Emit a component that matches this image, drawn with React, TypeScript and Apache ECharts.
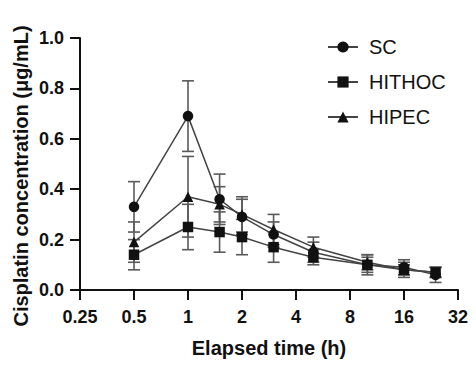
import React, { useEffect, useRef } from 'react';
import * as echarts from 'echarts';

const times = [0.5, 1, 1.5, 2, 3, 5, 10, 16, 24];
const scMean = [0.33, 0.69, 0.36, 0.29, 0.22, 0.15, 0.1, 0.09, 0.06];
const scErr = [0.1, 0.14, 0.1, 0.07, 0.05, 0.04, 0.04, 0.03, 0.03];
const hithocMean = [0.14, 0.25, 0.23, 0.21, 0.17, 0.13, 0.1, 0.08, 0.07];
const hithocErr = [0.06, 0.09, 0.08, 0.07, 0.06, 0.03, 0.03, 0.02, 0.02];
const hipecMean = [0.19, 0.37, 0.34, 0.3, 0.24, 0.17, 0.11, 0.08, 0.07];
const hipecErr = [0.08, 0.16, 0.07, 0.07, 0.06, 0.04, 0.03, 0.03, 0.02];
const seriesNames = ['SC', 'HITHOC', 'HIPEC'];

const FONT = '"Liberation Sans", Arial, Helvetica, sans-serif';

export default function App() {
  const ref = useRef<HTMLDivElement>(null);
  useEffect(() => {
    document.body.style.margin = '0';
    const chart = echarts.init(ref.current!, null, { renderer: 'svg' });

    const errSeries = (mean: number[], err: number[]) => ({
      type: 'custom',
      z: 1,
      silent: true,
      encode: { x: 0, y: [1, 2] },
      data: times.map((t, i) => [t, mean[i] - err[i], mean[i] + err[i]]),
      renderItem: (params: any, api: any) => {
        const x = api.value(0);
        const lo = api.coord([x, api.value(1)]);
        const hi = api.coord([x, api.value(2)]);
        const w = 6;
        const st = { stroke: '#5a5a5a', lineWidth: 1.6 };
        return {
          type: 'group',
          children: [
            { type: 'line', shape: { x1: lo[0], y1: lo[1], x2: hi[0], y2: hi[1] }, style: st },
            { type: 'line', shape: { x1: lo[0] - w, y1: lo[1], x2: lo[0] + w, y2: lo[1] }, style: st },
            { type: 'line', shape: { x1: hi[0] - w, y1: hi[1], x2: hi[0] + w, y2: hi[1] }, style: st },
          ],
        };
      },
    });

    const lineSeries = (name: string, mean: number[], symbol: string, size: number) => ({
      type: 'line',
      name,
      z: 3,
      symbol,
      symbolSize: size,
      data: times.map((t, i) => [t, mean[i]]),
      itemStyle: { color: '#111' },
      lineStyle: { color: '#444', width: 1.5 },
    });

    chart.setOption({
      animation: false,
      grid: { left: 80, right: 18, top: 38, bottom: 75 },
      legend: {
        orient: 'vertical',
        left: 322,
        top: 32,
        data: seriesNames,
        itemWidth: 30,
        itemHeight: 14,
        itemGap: 15,
        textStyle: { fontSize: 20, fontFamily: FONT, color: '#111', padding: [0, 0, 0, 6] },
      },
      xAxis: {
        type: 'log',
        logBase: 2,
        min: 0.25,
        max: 32,
        name: 'Elapsed time (h)',
        nameLocation: 'middle',
        nameGap: 48,
        nameTextStyle: { fontSize: 20, fontWeight: 'bold', fontFamily: FONT, color: '#111' },
        axisLine: { lineStyle: { color: '#111', width: 2 } },
        axisTick: { length: 10, lineStyle: { color: '#111', width: 2 } },
        axisLabel: {
          margin: 18,
          fontSize: 18,
          fontWeight: 'bold',
          fontFamily: FONT,
          color: '#111',
          formatter: (v: number) => String(+(+v).toPrecision(6)),
        },
        splitLine: { show: false },
        minorSplitLine: { show: false },
      },
      yAxis: {
        type: 'value',
        min: 0,
        max: 1,
        interval: 0.2,
        axisLine: { show: true, lineStyle: { color: '#111', width: 2 } },
        axisTick: { show: true, length: 10, lineStyle: { color: '#111', width: 2 } },
        axisLabel: {
          margin: 16,
          fontSize: 18,
          fontWeight: 'bold',
          fontFamily: FONT,
          color: '#111',
          formatter: (v: number) => v.toFixed(1),
        },
        splitLine: { show: false },
      },
      graphic: [
        {
          type: 'text',
          x: 21,
          y: 176,
          rotation: Math.PI / 2,
          style: {
            text: 'Cisplatin concentration (μg/mL)',
            font: `bold 20px ${FONT}`,
            fill: '#111',
            align: 'center',
            verticalAlign: 'middle',
            textAlign: 'center',
            textVerticalAlign: 'middle',
          },
        },
      ],
      series: [
        errSeries(scMean, scErr),
        errSeries(hithocMean, hithocErr),
        errSeries(hipecMean, hipecErr),
        lineSeries('SC', scMean, 'circle', 10.5),
        lineSeries('HITHOC', hithocMean, 'rect', 10.5),
        lineSeries('HIPEC', hipecMean, 'triangle', 10.5),
      ],
    });
    return () => chart.dispose();
  }, []);
  return <div ref={ref} style={{ width: 476, height: 365 }} />;
}
